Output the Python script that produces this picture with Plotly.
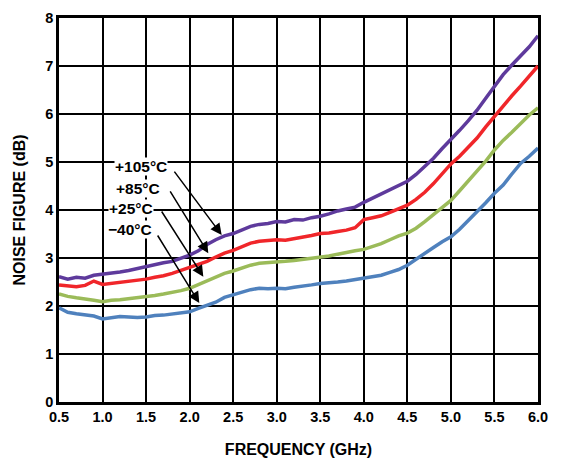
import plotly.graph_objects as go

freq = [round(0.5 + 0.1 * i, 1) for i in range(56)]

nf_105 = [2.61, 2.56, 2.60, 2.58, 2.64, 2.66, 2.68, 2.71, 2.74, 2.78,
          2.83, 2.86, 2.90, 2.93, 3.00, 3.06, 3.15, 3.28, 3.38, 3.46,
          3.51, 3.58, 3.66, 3.70, 3.72, 3.76, 3.75, 3.80, 3.79, 3.84,
          3.87, 3.92, 3.98, 4.02, 4.06, 4.16, 4.25, 4.33, 4.43, 4.52,
          4.60, 4.74, 4.90, 5.08, 5.28, 5.46, 5.66, 5.86, 6.08, 6.33,
          6.58, 6.82, 7.02, 7.22, 7.40, 7.63]
nf_85 = [2.44, 2.42, 2.40, 2.43, 2.52, 2.45, 2.47, 2.50, 2.51, 2.54,
         2.56, 2.60, 2.63, 2.68, 2.74, 2.80, 2.87, 2.93, 3.02, 3.10,
         3.16, 3.24, 3.31, 3.35, 3.37, 3.38, 3.37, 3.40, 3.43, 3.47,
         3.51, 3.52, 3.55, 3.58, 3.63, 3.80, 3.84, 3.88, 3.95, 4.02,
         4.10, 4.22, 4.37, 4.55, 4.75, 4.96, 5.12, 5.30, 5.50, 5.73,
         5.95, 6.18, 6.38, 6.58, 6.80, 7.00]
nf_25 = [2.25, 2.20, 2.17, 2.15, 2.12, 2.09, 2.12, 2.13, 2.15, 2.17,
         2.19, 2.22, 2.25, 2.28, 2.32, 2.37, 2.45, 2.53, 2.60, 2.68,
         2.73, 2.79, 2.85, 2.89, 2.90, 2.92, 2.93, 2.95, 2.97, 2.99,
         3.01, 3.04, 3.08, 3.12, 3.15, 3.18, 3.24, 3.30, 3.38, 3.46,
         3.52, 3.62, 3.76, 3.90, 4.05, 4.20, 4.40, 4.60, 4.82, 5.02,
         5.25, 5.45, 5.62, 5.80, 5.98, 6.13]
nf_m40 = [1.96, 1.87, 1.84, 1.82, 1.79, 1.73, 1.76, 1.78, 1.77, 1.76,
          1.77, 1.80, 1.81, 1.83, 1.86, 1.88, 1.95, 2.02, 2.08, 2.18,
          2.23, 2.28, 2.34, 2.37, 2.36, 2.37, 2.36, 2.39, 2.41, 2.44,
          2.47, 2.48, 2.50, 2.52, 2.55, 2.58, 2.60, 2.64, 2.70, 2.76,
          2.85, 2.98, 3.10, 3.22, 3.34, 3.44, 3.60, 3.78, 3.96, 4.15,
          4.35, 4.52, 4.75, 4.97, 5.12, 5.29]

x_ticks = [0.5, 1.0, 1.5, 2.0, 2.5, 3.0, 3.5, 4.0, 4.5, 5.0, 5.5, 6.0]
x_tick_text = ["0.5", "1.0", "1.5", "2.0", "2.5", "3.0", "3.5", "4.0", "4.5", "5.0", "5.5", "6.0"]
y_ticks = [0, 1, 2, 3, 4, 5, 6, 7, 8]

labels = ["+105°C", "+85°C", "+25°C", "\u221240°C"]
label_pos = [(1.75, 4.90), (1.67, 4.45), (1.59, 4.03), (1.575, 3.60)]
arrow_tail = [(1.812, 4.83), (1.766, 4.42), (1.668, 4.0), (1.622, 3.5)]
arrow_head = [(2.368, 3.48), (2.214, 3.10), (2.157, 2.61), (2.111, 2.06)]

series = [
    (nf_105, "#5E3A9C"),
    (nf_85, "#F0262A"),
    (nf_25, "#9BBB59"),
    (nf_m40, "#4F81BD"),
]

fig = go.Figure()
for vals, col in series:
    fig.add_trace(go.Scatter(x=freq, y=vals, mode="lines",
                             line=dict(color=col, width=3.5),
                             showlegend=False))

font_bold = "Liberation Sans"
for txt, (lx, ly) in zip(labels, label_pos):
    fig.add_annotation(x=lx, y=ly, text="<b>" + txt + "</b>", showarrow=False,
                       xanchor="right", yanchor="middle",
                       font=dict(family=font_bold, size=15.5, color="black"),
                       bgcolor="white", borderpad=0)
for (tx, ty), (hx, hy) in zip(arrow_tail, arrow_head):
    fig.add_annotation(x=hx, y=hy, ax=tx, ay=ty, axref="x", ayref="y",
                       xref="x", yref="y", text="", showarrow=True,
                       arrowhead=2, arrowsize=1.5, arrowwidth=1.5,
                       arrowcolor="black")

fig.update_layout(
    width=570, height=459,
    margin=dict(l=59, r=32, t=18, b=57, autoexpand=False),
    paper_bgcolor="white", plot_bgcolor="white",
    font=dict(family=font_bold, color="black"),
    xaxis=dict(range=[0.5, 6.0], tickvals=x_ticks, ticktext=["<b>%s</b>" % t for t in x_tick_text],
               showgrid=True, gridcolor="black", gridwidth=1.5,
               showline=True, linecolor="black", linewidth=2.5, mirror=True,
               zeroline=False, ticks="", tickfont=dict(size=14.5), automargin=False,
               title=dict(text="<b>FREQUENCY (GHz)</b>", font=dict(size=16), standoff=20)),
    yaxis=dict(range=[0, 8], tickvals=y_ticks, ticktext=["<b>%d</b>" % t for t in y_ticks],
               showgrid=True, gridcolor="black", gridwidth=1.5,
               showline=True, linecolor="black", linewidth=2.5, mirror=True,
               zeroline=False, ticks="", tickfont=dict(size=14.5), automargin=False,
               title=dict(text="<b>NOISE FIGURE (dB)</b>", font=dict(size=16), standoff=16)),
)

fig.write_html("out.html", config={"displayModeBar": False},
               post_script="document.body.style.margin='0';")
